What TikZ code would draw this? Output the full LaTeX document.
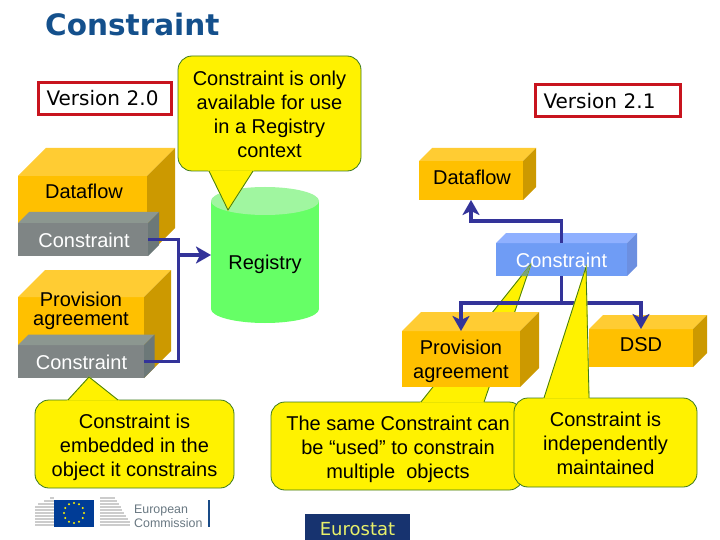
\documentclass[tikz,border=0pt]{standalone}
\usepackage{fontspec}
\usepackage{xcolor}
\setmainfont{Liberation Sans}
\newfontfamily\dejavu{DejaVu Sans}
\usetikzlibrary{arrows.meta, calc}
\definecolor{boxfront}{HTML}{FFC000}
\definecolor{boxtop}{HTML}{FFCC33}
\definecolor{boxside}{HTML}{CC9900}
\definecolor{grayfront}{HTML}{7F8585}
\definecolor{graytop}{HTML}{8C9790}
\definecolor{grayside}{HTML}{6C7878}
\definecolor{bluefront}{HTML}{6F9CF5}
\definecolor{bluetop}{HTML}{8FB0FF}
\definecolor{blueside}{HTML}{6C8FE0}
\definecolor{flowblue}{HTML}{333399}
\definecolor{noteline}{HTML}{3C7A1E}
\definecolor{redline}{HTML}{C8141E}
\definecolor{regbody}{HTML}{66FF66}
\definecolor{regend}{HTML}{A0F6A0}
\definecolor{titleblue}{HTML}{14508C}
\tikzstyle{face} = [rectangle, inner sep=0pt, outer sep=0pt]
\tikzstyle{note} = [rectangle, rounded corners=14pt, draw=noteline, fill=yellow, line width=0.8pt, inner sep=0pt]
\tikzstyle{label} = [inner sep=0pt, align=center, font=\fontsize{20}{24}\selectfont]
\tikzstyle{verbox} = [rectangle, draw=redline, line width=3pt, inner xsep=8pt, inner ysep=0pt, minimum height=32pt, align=left, font=\dejavu\fontsize{20}{24}\selectfont]
\tikzstyle{flow} = [draw=flowblue, line width=3pt]
\tikzstyle{arrow} = [draw=flowblue, line width=3.6pt, -{Stealth[length=15pt, width=17pt, inset=4pt]}]
\newcommand{\boxfaces}[4]{
  \fill[#3] (#1.north west) -- ++(#2,-#2) -- ($(#1.north east)+(#2,-#2)$) -- (#1.north east) -- cycle;
  \fill[#4] (#1.north east) -- ++(#2,-#2) -- ($(#1.south east)+(#2,-#2)$) -- (#1.south east) -- cycle;
}
\newcommand{\noteTail}[3]{
  \filldraw[fill=yellow, draw=yellow, line width=1pt] #1 -- #2 -- #3 -- cycle;
  \draw[noteline, line width=0.8pt] #1 -- #2 -- #3;
}
\begin{document}
\begin{tikzpicture}[x=1pt, y=-1pt]
  \useasboundingbox (0,0) rectangle (720,540);
  \fill[white] (0,0) rectangle (720,540);

  \node[anchor=west, inner sep=0pt, text=titleblue, font=\dejavu\bfseries\fontsize{29.5}{34}\selectfont] (title) at (45,25) {Constraint};
  \node[verbox, text width=117pt] (ver20) at (105,98.5) {Version 2.0};
  \node[verbox, text width=129pt] (ver21) at (608,101) {Version 2.1};

  % left side
  \node[face, fill=boxfront, minimum width=129pt, minimum height=80pt] (dfl) at (82.5,216) {};
  \boxfaces{dfl}{28}{boxtop}{boxside}
  \node[label] (dfltxt) at (84,191) {Dataflow};
  \node[face, fill=grayfront, minimum width=130pt, minimum height=33pt] (conl) at (83,239.5) {};
  \boxfaces{conl}{11}{graytop}{grayside}
  \node[label, text=white] (conltxt) at (84,240.5) {Constraint};

  \node[face, fill=boxfront, minimum width=126pt, minimum height=81pt] (pal) at (81,337.5) {};
  \boxfaces{pal}{27}{boxtop}{boxside}
  \node[label, font=\fontsize{20}{19.5}\selectfont] (paltxt) at (81,311) {Provision\\agreement};
  \node[face, fill=grayfront, minimum width=126pt, minimum height=33pt] (conp) at (81,361.5) {};
  \boxfaces{conp}{10.5}{graytop}{grayside}
  \node[label, text=white] (conptxt) at (81.5,362.5) {Constraint};

  % registry
  \fill[regbody] (265,309) ellipse [x radius=54, y radius=14];
  \node[face, fill=regbody, minimum width=108pt, minimum height=108pt] (reg) at (265,255) {};
  \fill[regend] (265,201) ellipse [x radius=54, y radius=14];
  \node[label] (regtxt) at (265,264.5) {Registry};

  \coordinate (merge) at (178,255);
  \draw[flow] (conl.east) -| (merge);
  \draw[flow] (conp.east) -| (merge);
  \draw[arrow] (merge) -- (reg.west);

  % notes on the left
  \node[note, minimum width=183pt, minimum height=115pt] (noteonly) at (269.5,113.5) {};
  \noteTail{(209,171)}{(228,210)}{(253,171)}
  \node[label] (onlytxt) at (269.5,114.5) {Constraint is only\\available for use\\in a Registry\\context};
  \node[note, minimum width=199pt, minimum height=88pt] (noteemb) at (134.5,444) {};
  \noteTail{(68,400)}{(89,377)}{(118,400)}
  \node[label] (embtxt) at (134.5,447) {Constraint is\\embedded in the\\object it constrains};

  % right side
  \node[face, fill=boxfront, minimum width=104pt, minimum height=39pt] (dfr) at (471,180.5) {};
  \boxfaces{dfr}{13}{boxtop}{boxside}
  \node[label] (dfrtxt) at (472,177.5) {Dataflow};
  \node[face, fill=bluefront, minimum width=131pt, minimum height=33pt] (conr) at (561.5,259.5) {};
  \boxfaces{conr}{10}{bluetop}{blueside}

  \node[note, minimum width=252pt, minimum height=88pt] (noteuse) at (397,446) {};
  \noteTail{(421,402)}{(531,264)}{(484,402)}
  \fill[noteline!45!bluefront!80!yellow] (531,264) -- (521,276) -- (527,276) -- cycle;
  \node[label] (usetxt) at (398,449) {The same Constraint can\\be “used” to constrain\\multiple~ objects};

  \node[face, fill=boxfront, minimum width=118pt, minimum height=56pt] (par) at (461,359) {};
  \boxfaces{par}{19}{boxtop}{boxside}
  \node[label] (partxt) at (461,361) {Provision\\agreement};
  \node[face, fill=boxfront, minimum width=104pt, minimum height=38pt] (dsd) at (641,348) {};
  \boxfaces{dsd}{14}{boxtop}{boxside}
  \node[label] (dsdtxt) at (641,345) {DSD};

  \draw[arrow] (conr.north) -- ++(0,-22) -| (dfr.south);
  \draw[arrow] (conr.south) -- ++(0,27) -| (par.north);
  \draw[arrow] (conr.south) -- ++(0,27) -| (dsd.north);

  \node[note, minimum width=183pt, minimum height=89pt] (noteind) at (605.5,442.5) {};
  \noteTail{(544,398)}{(586,267)}{(589,398)}
  \node[label] (indtxt) at (605.5,443.5) {Constraint is\\independently\\maintained};
  \node[label, text=white] (conrtxt) at (561.5,260) {Constraint};

  % logos
  \foreach \y in {498,501,...,526} {
    \pgfmathsetmacro{\xl}{max(35,50-(\y-498)*2)}
    \pgfmathsetmacro{\xr}{min(130,108+(\y-486)*0.6)}
    \draw[gray!40, line width=1.2pt] (\xl,\y) -- (54,\y);
    \draw[gray!40, line width=1.2pt] (100,\y) -- (\xr,\y);
  }
  \node[rectangle, fill={rgb,255:red,0;green,60;blue,150}, minimum width=40pt, minimum height=27pt, inner sep=0pt] (flag) at (74,513) {};
  \foreach \a in {0,30,...,330} {
    \fill[yellow] (flag) ++(\a:10) circle (1.1);
  }
  \node[anchor=west, inner sep=0pt, align=left, text={rgb,255:red,105;green,120;blue,130}, font=\fontsize{12.4}{14}\selectfont] (ectxt) at (134,516) {European\\Commission};
  \node[rectangle, fill={rgb,255:red,25;green,75;blue,135}, minimum width=2pt, minimum height=27pt, inner sep=0pt] (ecbar) at (209,513.5) {};
  \node[rectangle, fill={rgb,255:red,23;green,51;blue,111}, text={rgb,255:red,232;green,240;blue,106}, minimum width=105pt, minimum height=30pt, inner sep=0pt, font=\dejavu\fontsize{18}{22}\selectfont] (euro) at (357.5,529) {Eurostat};
\end{tikzpicture}
\end{document}
